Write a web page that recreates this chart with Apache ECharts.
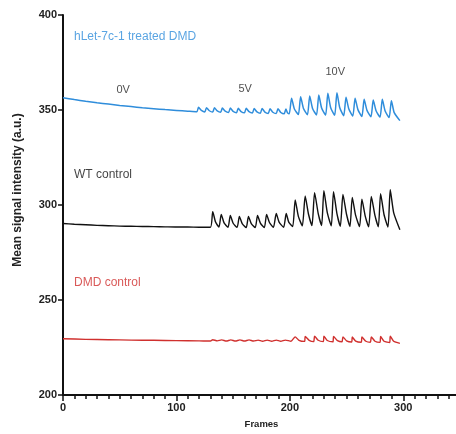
<!DOCTYPE html>
<html>
<head>
<meta charset="utf-8">
<script src="https://cdn.jsdelivr.net/npm/echarts@6/dist/echarts.min.js"></script>
<style>
html,body{margin:0;padding:0;background:#fff;}
#chart{width:456px;height:434px;}
</style>
</head>
<body>
<div id="chart"></div>
<script>
// Frame / mean signal intensity pairs
var treatedDMD = [
  [0,356.5],[10,355.5],[20,354.6],[30,353.8],[40,353.1],[50,352.4],[60,351.8],[70,351.2],[80,350.7],[90,350.2],[100,349.8],[110,349.4],[118,349.1],
  [119.5,351.4],[122,349.8],[125,349.0],
  [126.5,351.2],[129,349.6],[132,348.9],
  [133.5,351.2],[136,349.5],[139,348.8],
  [140.5,351.0],[143,349.4],[146,348.7],
  [147.5,351.0],[150,349.3],[153,348.6],
  [154.5,350.9],[157,349.2],[160,348.5],
  [161.5,350.9],[164,349.1],[167,348.4],
  [168.5,350.8],[171,349.0],[174,348.3],
  [175.5,350.8],[178,348.9],[181,348.2],
  [182.5,350.7],[185,348.8],[188,348.1],
  [189.5,350.7],[192,348.7],[195,348.0],
  [196.5,350.5],[198,348.5],[199.5,348.0],
  [201.5,356.2],[204,350.5],[207.5,347.6],
  [209.5,357.0],[212,350.8],[215.5,347.5],
  [217.5,357.4],[220,350.8],[223.5,347.4],
  [225.5,357.9],[228,351.0],[231.5,347.3],
  [233.5,358.8],[236,351.2],[239.5,347.2],
  [241.5,359.1],[244,351.2],[247.5,347.0],
  [249.5,356.7],[252,350.5],[255.5,346.8],
  [257.5,356.2],[260,350.2],[263.5,346.6],
  [265.5,355.6],[268,349.8],[271.5,346.4],
  [273.5,355.3],[276,349.6],[279.5,346.2],
  [281.5,355.6],[284,349.5],[287.5,346.0],
  [289.5,354.9],[292,348.6],[297,344.4]
];
var wtControl = [
  [0,290.3],[10,289.9],[20,289.6],[30,289.3],[40,289.1],[50,288.9],[60,288.8],[70,288.7],[80,288.6],[90,288.5],[100,288.4],[110,288.4],[120,288.3],[130,288.3],
  [132,296.5],[134.5,291.0],[137.5,288.4],
  [139.5,295.0],[142,290.6],[145.5,288.3],
  [147.5,294.5],[150,290.4],[153.5,288.2],
  [155.5,294.0],[158,290.2],[161.5,288.1],
  [163.5,294.0],[166,290.2],[169.5,288.1],
  [171.5,294.5],[174,290.5],[177.5,288.1],
  [179.5,295.0],[182,290.8],[185.5,288.2],
  [188,295.5],[190.5,291.0],[194.5,288.3],
  [196.8,295.5],[199,291.0],[202.5,288.6],
  [204.7,302.6],[207.5,294.0],[211,289.0],
  [213.5,304.7],[216.5,295.0],[219.5,289.2],
  [221.8,306.5],[225,295.5],[228,289.2],
  [230,307.5],[233,296.0],[236.5,289.0],
  [238.5,307.0],[241.5,295.5],[244.5,288.8],
  [246.8,305.5],[250,295.0],[253,288.7],
  [255,304.0],[258,294.5],[261.5,288.6],
  [263.5,303.0],[266.5,294.0],[269.5,288.5],
  [271.8,304.5],[275,294.5],[278,288.5],
  [280,306.0],[283,295.0],[286.5,288.4],
  [288.5,308.0],[291.5,296.0],[297,287.0]
];
var dmdControl = [
  [0,229.6],[20,229.3],[40,229.1],[60,228.9],[80,228.8],[100,228.6],[120,228.5],[130,228.4],
  [132,229.1],[136,228.5],[140,229.0],[144,228.4],[148,229.0],[152,228.4],[156,229.0],[160,228.4],
  [164,229.0],[168,228.4],[172,228.9],[176,228.3],[180,228.9],[184,228.3],[188,228.9],[192,228.3],[196,228.9],[201,228.3],
  [204.7,230.6],[208,228.8],[213,228.2],
  [213.5,230.8],[217,228.8],[221,228.1],
  [221.8,231.0],[225,228.8],[229.5,228.1],
  [230,231.0],[233,228.7],[238,228.0],
  [238.5,230.8],[242,228.6],[246,228.0],
  [246.8,230.6],[250,228.5],[254.5,227.9],
  [255,230.5],[258,228.4],[263,227.8],
  [263.5,230.5],[267,228.3],[271,227.8],
  [271.8,230.6],[275,228.3],[279.5,227.7],
  [280,230.8],[283,228.3],[288,227.6],
  [288.5,231.0],[291.5,228.3],[297,227.2]
];
// Text annotations: [frame, value, text]
var seriesLabels = [
  [9.7,388.4,'hLet-7c-1 treated DMD'],
  [9.7,315.8,'WT control'],
  [9.7,259.0,'DMD control']
];
var voltageLabels = [
  [53,360.5,'0V'],
  [160.6,361,'5V'],
  [240,370,'10V']
];
var labelColors = ['#2f8ddb','#111111','#d0302e'];
var xTicks = [0,100,200,300];
var yTicks = [200,250,300,350,400];
var yTitle = 'Mean signal intensity (a.u.)';
var xTitle = 'Frames';

var chart = echarts.init(document.getElementById('chart'), null, {renderer:'canvas'});
var font = 'Arial, "Liberation Sans", Helvetica, sans-serif';
var option = {
  animation: false,
  backgroundColor: '#ffffff',
  grid: {left: 63, right: -4, top: 15, bottom: 39, containLabel: false, outerBoundsMode: 'none'},
  graphic: [{
    type: 'text', x: 17.5, y: 190, rotation: Math.PI / 2,
    style: {text: yTitle, fill: '#222', font: 'bold 12px ' + font, textAlign: 'center', textVerticalAlign: 'middle'}
  }],
  xAxis: [{
    type: 'value', min: 0, max: 350, interval: 100,
    axisLine: {lineStyle: {color: '#111', width: 2}},
    axisTick: {show: true, length: 6, lineStyle: {color: '#111', width: 1.5}},
    splitLine: {show: false},
    axisLabel: {color: '#222', fontFamily: font, fontWeight: 'bold', fontSize: 11, margin: 7,
      formatter: function(v){ return xTicks.indexOf(v) >= 0 ? String(v) : ''; }},
    name: xTitle, nameLocation: 'middle', nameGap: 24,
    nameTextStyle: {color: '#222', fontFamily: font, fontWeight: 'bold', fontSize: 9.5}
  },{
    type: 'value', min: 0, max: 350, interval: 10, position: 'bottom',
    axisLine: {show: false},
    axisTick: {show: true, length: 4, lineStyle: {color: '#111', width: 1.5}},
    axisLabel: {show: false},
    splitLine: {show: false}
  }],
  yAxis: {
    type: 'value', min: 200, max: 400, interval: 50,
    axisLine: {show: true, lineStyle: {color: '#111', width: 2}},
    axisTick: {show: true, length: 5, lineStyle: {color: '#111', width: 1.5}},
    splitLine: {show: false},
    axisLabel: {color: '#222', fontFamily: font, fontWeight: 'bold', fontSize: 11, margin: 6,
      formatter: function(v){ return yTicks.indexOf(v) >= 0 ? String(v) : ''; }}
  },
  series: [
    {type:'line', name:'hLet-7c-1 treated DMD', data: treatedDMD, showSymbol:false, symbol:'none', smooth:0.2,
      lineStyle:{color:'#2f8ddb', width:1.5}, z:3},
    {type:'line', name:'WT control', data: wtControl, showSymbol:false, symbol:'none', smooth:0.2,
      lineStyle:{color:'#111111', width:1.4}, z:3},
    {type:'line', name:'DMD control', data: dmdControl, showSymbol:false, symbol:'none', smooth:0.2,
      lineStyle:{color:'#d0302e', width:1.4}, z:3},
    {type:'scatter', symbolSize: 0, silent: true, z: 5,
      data: seriesLabels.map(function(d,i){
        return {value:[d[0],d[1]], name:d[2],
          label:{show:true, position:'right', distance:0, formatter:d[2], color:labelColors[i],
            fontFamily:font, fontSize:12}};
      })},
    {type:'scatter', symbolSize: 0, silent: true, z: 5,
      data: voltageLabels.map(function(d){
        return {value:[d[0],d[1]], name:d[2],
          label:{show:true, position:'inside', formatter:d[2], color:'#222',
            fontFamily:font, fontSize:11}};
      })}
  ]
};
chart.setOption(option);
</script>
</body>
</html>
